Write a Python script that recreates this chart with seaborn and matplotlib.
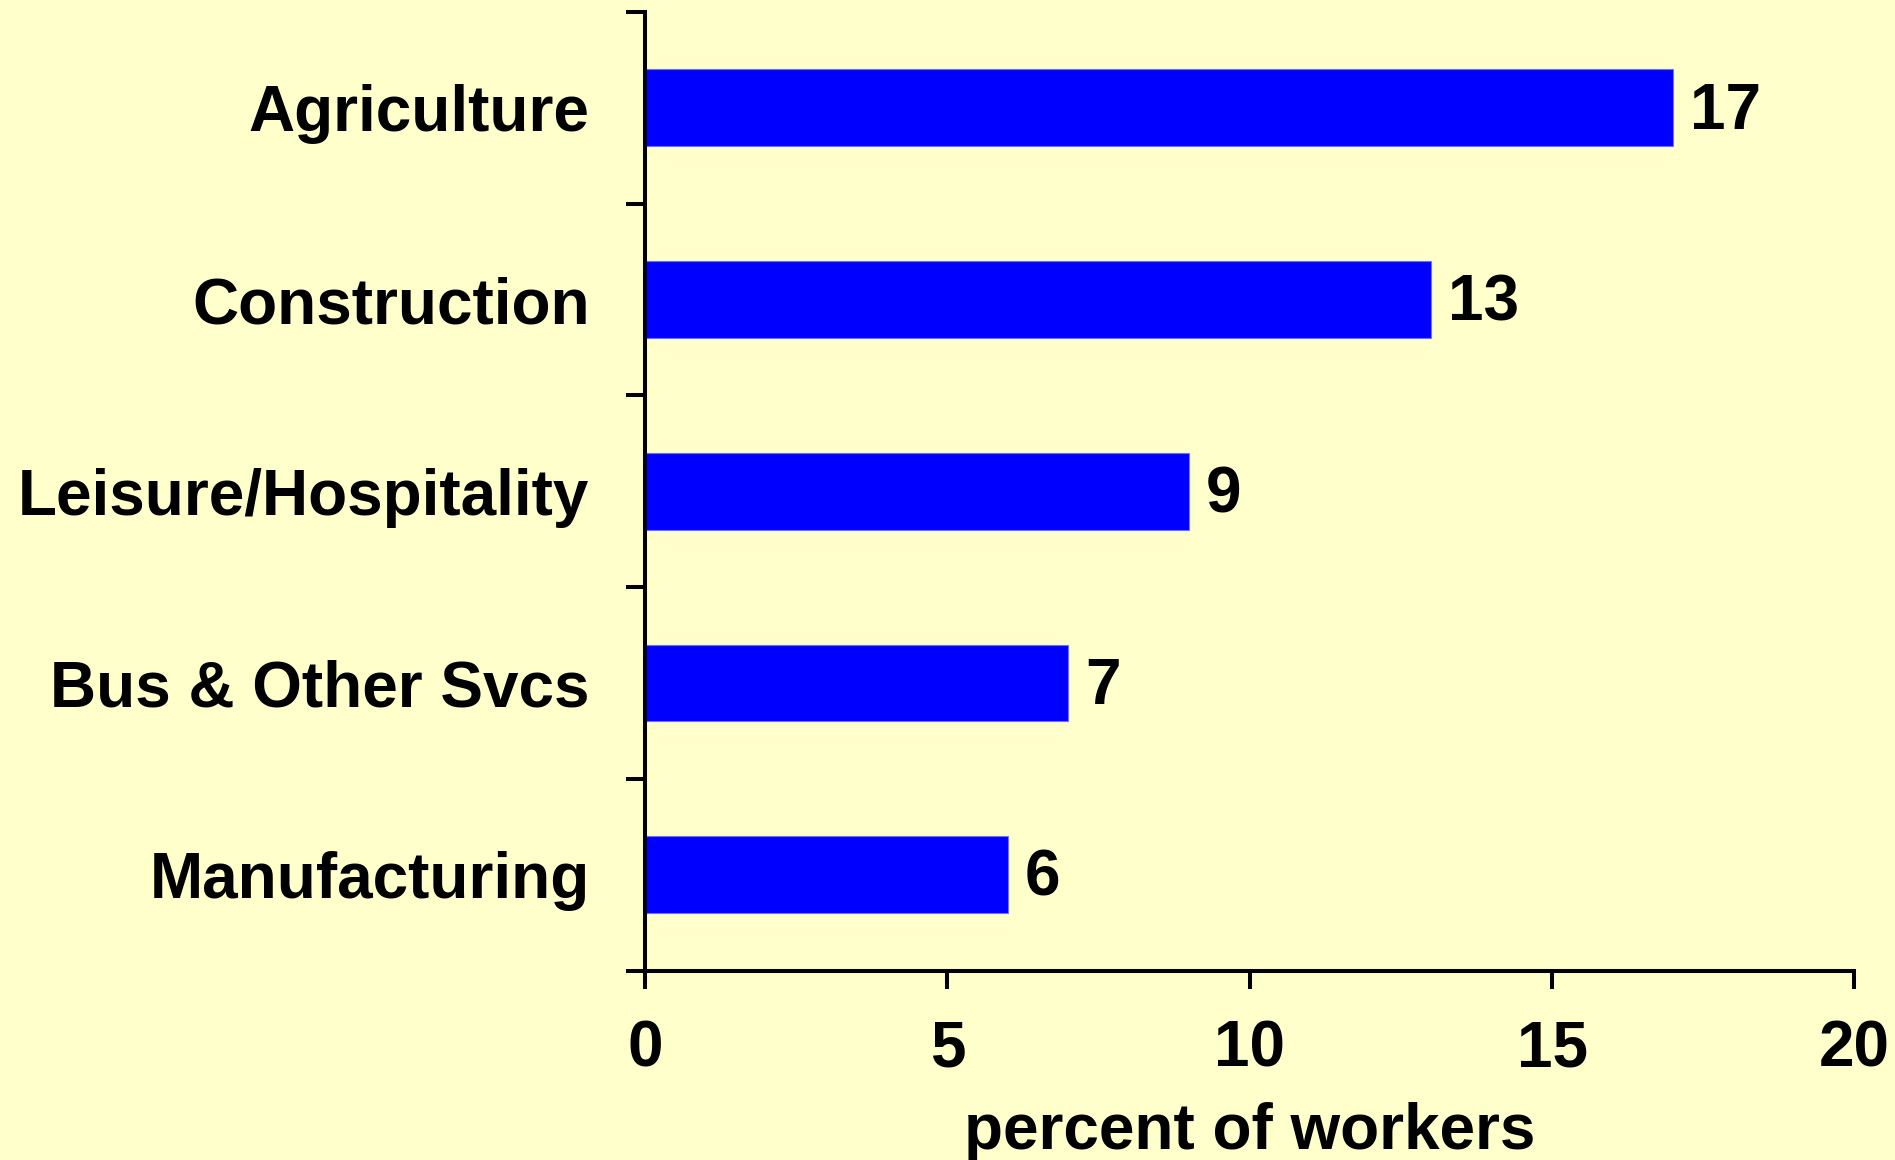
import matplotlib
matplotlib.use("Agg")
import matplotlib.pyplot as plt
import seaborn as sns
import pandas as pd

# data
industries = ["Agriculture", "Construction", "Leisure/Hospitality",
              "Bus & Other Svcs", "Manufacturing"]
percent_workers = [17, 13, 9, 7, 6]
x_ticks = [0, 5, 10, 15, 20]

df = pd.DataFrame({"industry": industries, "percent": percent_workers})

sns.set_style("ticks")
plt.rcParams["font.family"] = ["Liberation Sans", "DejaVu Sans"]
plt.rcParams["font.weight"] = "bold"
for k in ["text.color", "axes.labelcolor", "xtick.color", "ytick.color"]:
    plt.rcParams[k] = "black"

FS = 46
bg = "#FFFFCC"
fig = plt.figure(figsize=(18.95, 11.6), dpi=100, facecolor=bg)
ax = fig.add_axes([0.3404, 0.1632, 0.6382, 0.8265])
ax.set_facecolor(bg)

sns.barplot(data=df, x="percent", y="industry", orient="h", color="#0000FF",
            saturation=1, width=0.4, edgecolor="#7070ff", linewidth=0.8, ax=ax)

ax.set_xlim(0, 20)
ax.set_ylim(len(industries) - 0.5, -0.5)
ax.set_xticks(x_ticks)
ax.set_xticklabels([str(t) for t in x_ticks])

# ticks at category boundaries, labels at centres
ax.set_yticks([i - 0.5 for i in range(len(industries) + 1)], minor=True)
ax.tick_params(axis="y", which="major", length=0, pad=40, labelsize=FS)
ax.tick_params(axis="y", which="minor", length=14, width=2.9, direction="out")
ax.tick_params(axis="x", which="major", length=13, width=2.9, pad=22, labelsize=FS)

for lbl in ax.get_yticklabels() + ax.get_xticklabels():
    lbl.set_fontweight("bold")

for s in ["top", "right"]:
    ax.spines[s].set_visible(False)
for s in ["left", "bottom"]:
    ax.spines[s].set_linewidth(2.9)
    ax.spines[s].set_color("black")

ax.set_ylabel("")
ax.set_xlabel("percent of workers", fontsize=FS, fontweight="bold", labelpad=16)

# value labels just right of each bar end
for i, v in enumerate(percent_workers):
    ax.annotate(str(v), xy=(v, i), xytext=(12, -3), textcoords="offset points",
                ha="left", va="center", fontsize=FS, fontweight="bold")

fig.savefig("out.png", dpi=100, facecolor=bg)
